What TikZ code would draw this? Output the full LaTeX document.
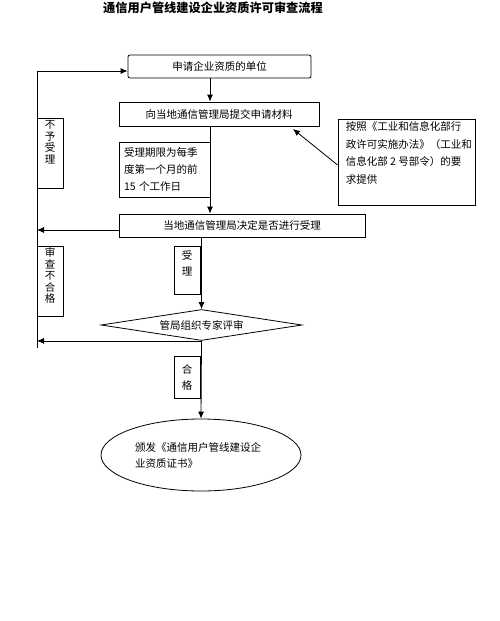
\documentclass[tikz,border=0pt]{standalone}
\usepackage{fontspec}
\setmainfont{Noto Sans CJK SC}
\usetikzlibrary{shapes.geometric,arrows.meta}

\begin{document}
\begin{tikzpicture}[x=1pt,y=-1pt,
		every node/.style={font=\fontsize{10.5}{17}\selectfont},
		flow/.style={draw,line width=0.8pt,inner sep=0pt},
		stack/.style={align=center,inner sep=0pt,font=\fontsize{10.5}{11.5}\selectfont},
		link/.style={line width=0.8pt,-{Latex[length=7pt,width=6pt]}},
		wire/.style={line width=0.8pt}]
	\useasboundingbox (0,0) rectangle (499,621);
	\node[font=\fontsize{12.2}{15}\selectfont\bfseries] (title) at (213,8) {通信用户管线建设企业资质许可审查流程};
	% main column
	\node[flow,rounded corners=2pt,minimum width=183pt,minimum height=23pt] (unit) at (219.5,66.5) {申请企业资质的单位};
	\node[flow,minimum width=200pt,minimum height=24pt] (submit) at (219,114) {向当地通信管理局提交申请材料};
	\node[flow,minimum width=91pt,minimum height=55pt,text width=81pt,align=left,inner xsep=5pt] (period) at (164.5,169.5) {受理期限为每季\\度第一个月的前\\15 个工作日};
	\node[flow,minimum width=137pt,minimum height=86pt,
		label={[anchor=north west,align=left,inner sep=0pt,xshift=8pt,yshift=-3pt,font=\fontsize{10.5}{17.5}\selectfont]north west:按照《工业和信息化部行\\政许可实施办法》（工业和\\信息化部 2 号部令）的要\\求提供}] (note) at (406.5,162) {};
	\node[flow,minimum width=246pt,minimum height=23pt] (decide) at (242,225.5) {当地通信管理局决定是否进行受理};
	\node[flow,minimum width=26pt,minimum height=48pt,label={[stack,anchor=north,yshift=-5pt,font=\fontsize{10.5}{16}\selectfont]north:受\\理}] (accept) at (187,270) {};
	\node[flow,diamond,aspect=6.5,minimum width=201pt,minimum height=31pt] (review) at (201.5,325) {管局组织专家评审};
	\node[flow,minimum width=26pt,minimum height=42pt,align=center,font=\fontsize{10.5}{16}\selectfont] (pass) at (187,377) {合\\格};
	\node[flow,ellipse,minimum width=200pt,minimum height=72pt,text width=132pt,align=left,font=\fontsize{10.5}{16}\selectfont] (cert) at (201,455) {颁发《通信用户管线建设企\\业资质证书》};
	% return side
	\node[flow,minimum width=26pt,minimum height=70pt,label={[stack,anchor=north,yshift=-3pt]north:不\\予\\受\\理}] (refuse) at (50,153) {};
	\node[flow,minimum width=26pt,minimum height=70pt,label={[stack,anchor=north,yshift=-2pt]north:审\\查\\不\\合\\格}] (fail) at (50,281) {};
	\coordinate (top) at (37,71);
	\coordinate (bottom) at (37,348);
	\coordinate (col) at (210,0);
	\coordinate (hint) at (293,129);
	% connectors
	\draw[wire] (top) -- (bottom);
	\draw[link] (top) -- (top -| unit.west);
	\draw[link] (unit.south -| col) -- (submit.north -| col);
	\draw[link] (submit.south -| col) -- (decide.north -| col);
	\draw[link] ([yshift=-3pt]note.west) -- (hint);
	\draw[link] ([yshift=-4.5pt]decide.west) -- ([yshift=-4.5pt]decide.west -| top);
	\draw[link] (decide.south -| review.north) -- (review.north);
	\draw[link] (review.south) -- (review.south -| top);
	\draw[link] (review.south) -- (cert.north);
\end{tikzpicture}
\end{document}
